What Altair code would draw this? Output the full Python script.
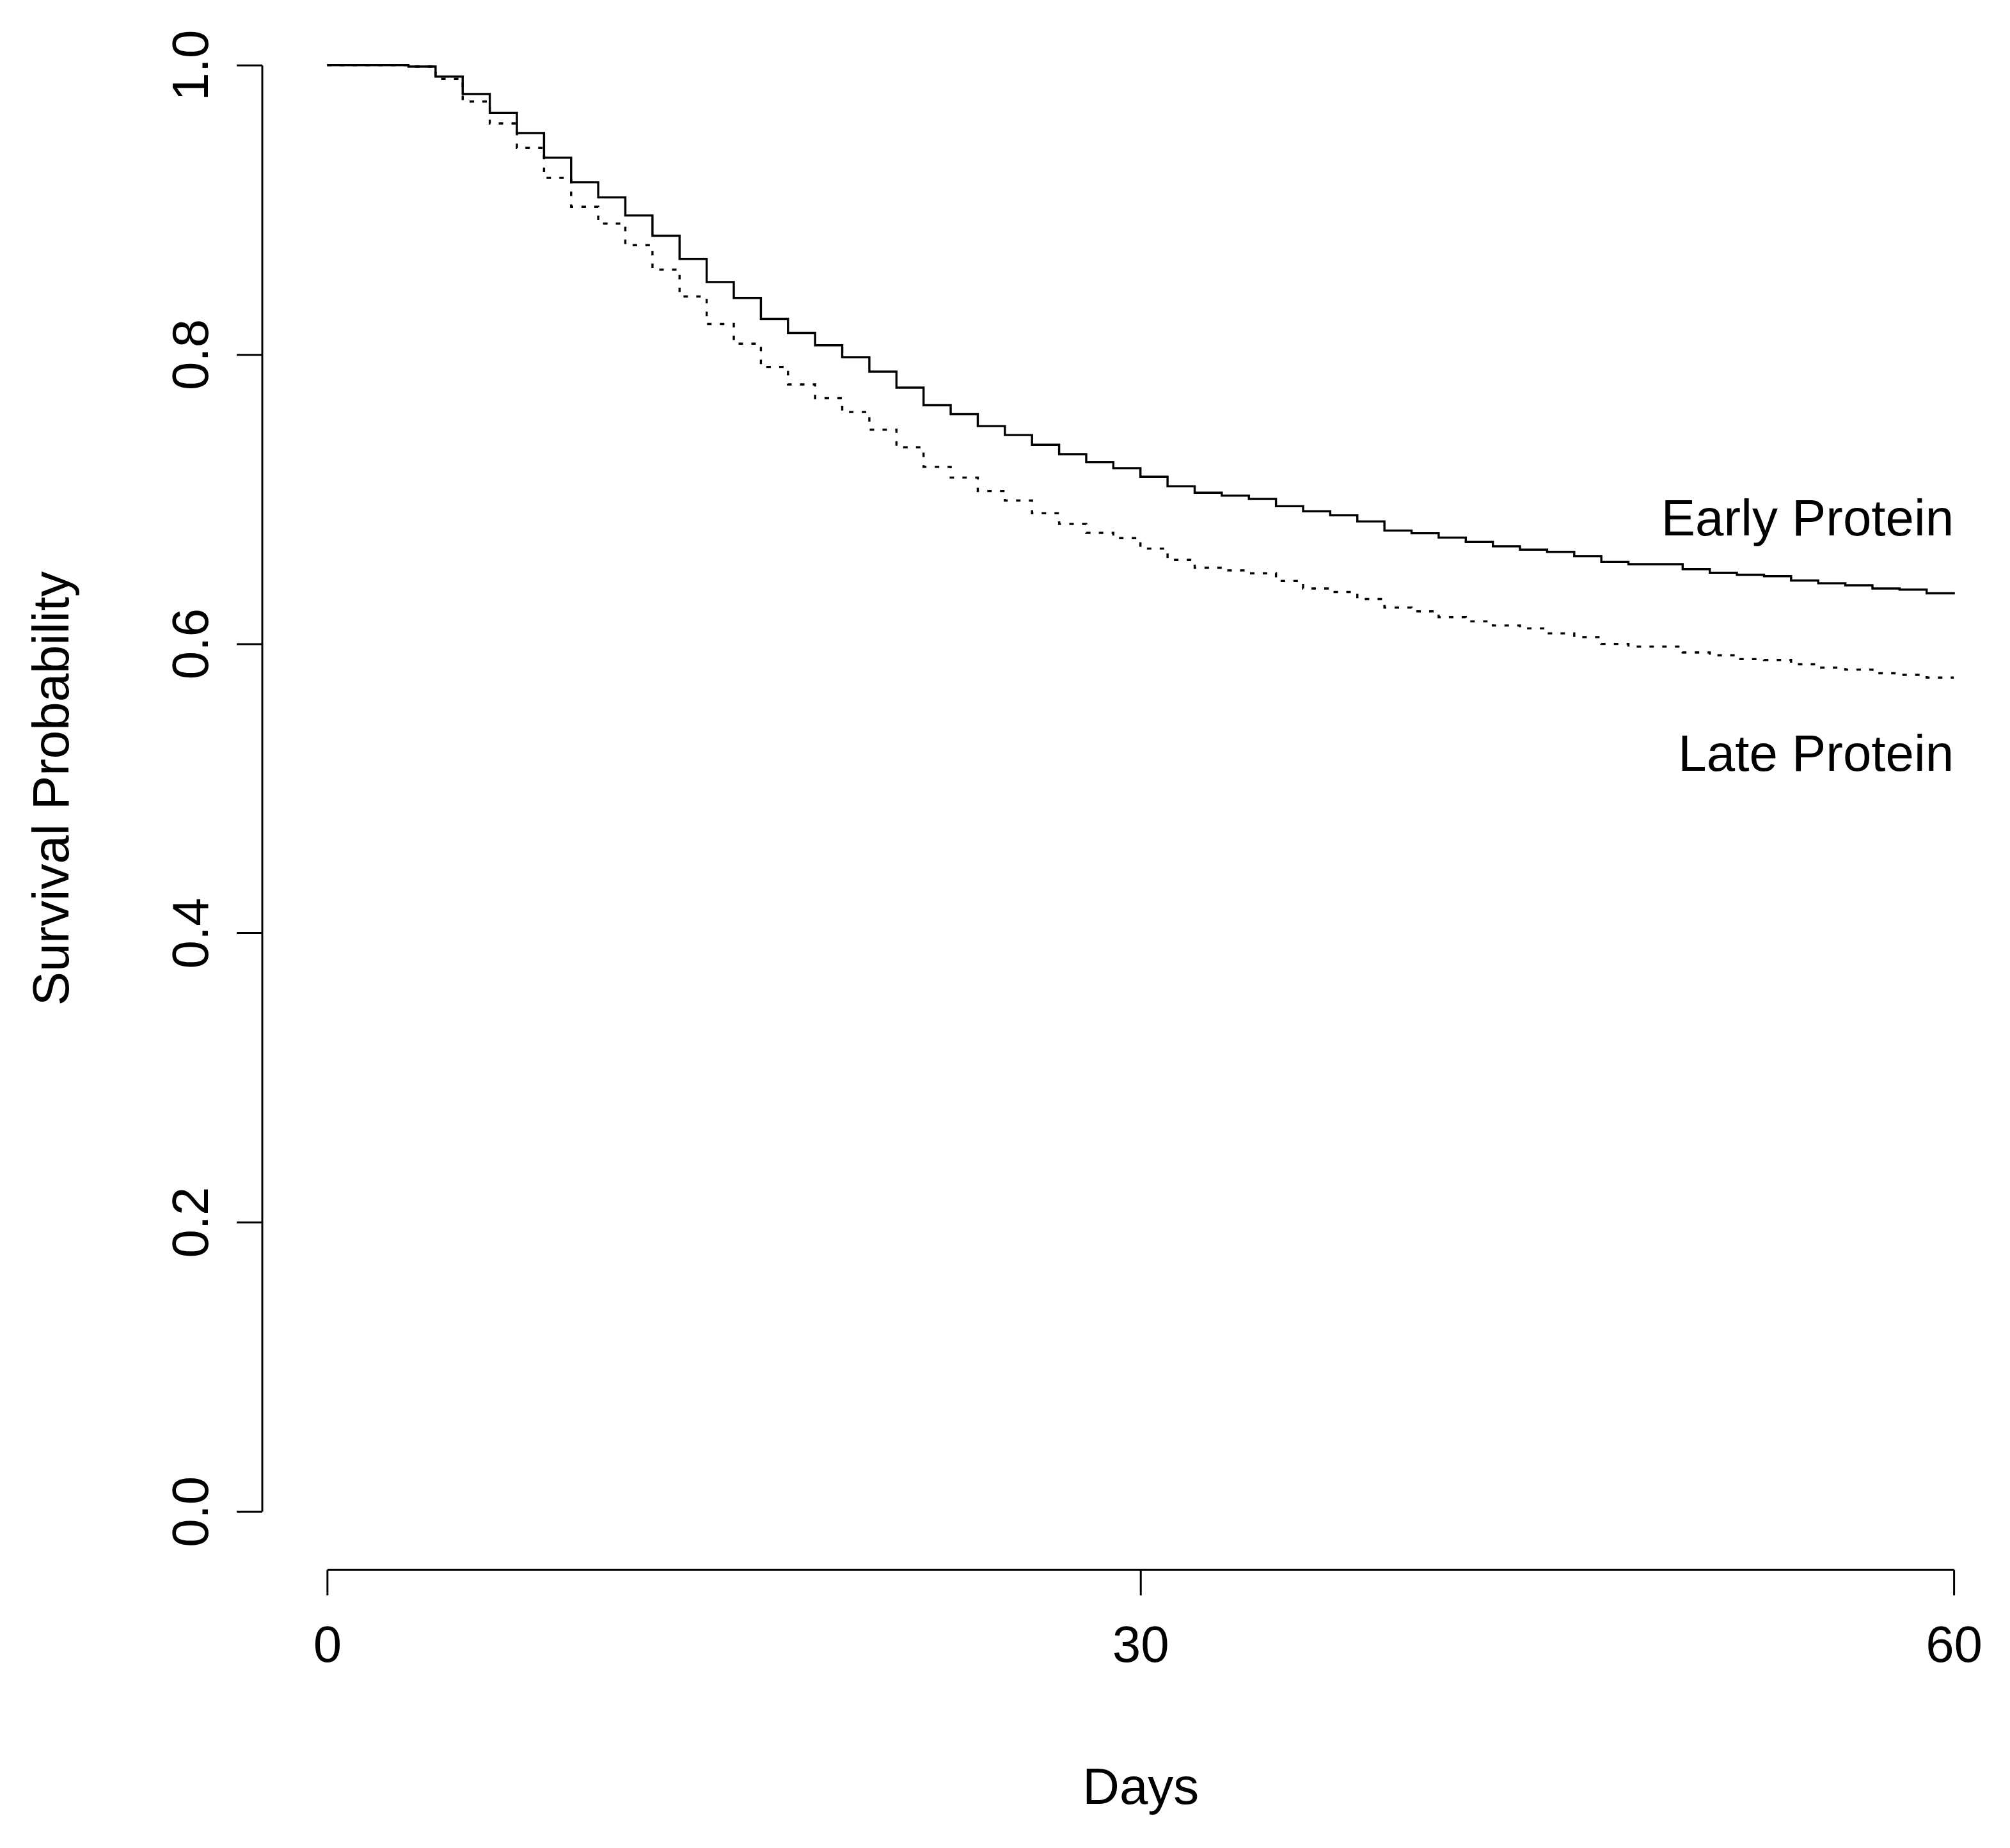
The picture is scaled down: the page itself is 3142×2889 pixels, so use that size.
import altair as alt
import pandas as pd

# ---- data ----
days = list(range(61))
early = [1.0, 1.0, 1.0, 0.999, 0.992, 0.980, 0.967, 0.953, 0.936, 0.919,
         0.9085, 0.896, 0.882, 0.866, 0.850, 0.839, 0.8245, 0.8148, 0.8063, 0.7979,
         0.788, 0.777, 0.7648, 0.7586, 0.7504, 0.7442, 0.7375, 0.731, 0.7254, 0.7213,
         0.7154, 0.7088, 0.7043, 0.7023, 0.700, 0.695, 0.6915, 0.6887, 0.6845, 0.6782,
         0.6763, 0.6733, 0.6703, 0.6673, 0.665, 0.6634, 0.6604, 0.6565, 0.6549, 0.6549,
         0.6515, 0.649, 0.6476, 0.6466, 0.6436, 0.6417, 0.6403, 0.6381, 0.6373, 0.6348,
         0.634]
late = [1.0, 1.0, 1.0, 0.999, 0.9905, 0.9748, 0.9596, 0.9427, 0.922, 0.902,
        0.8904, 0.8755, 0.8586, 0.840, 0.821, 0.8074, 0.7913, 0.7792, 0.7697, 0.7601,
        0.7479, 0.7357, 0.7222, 0.7148, 0.7055, 0.6989, 0.6901, 0.6827, 0.6766, 0.6729,
        0.6657, 0.6579, 0.6525, 0.6506, 0.6486, 0.6433, 0.6381, 0.6357, 0.6308, 0.6249,
        0.6223, 0.6183, 0.6154, 0.6125, 0.6105, 0.6071, 0.6045, 0.5998, 0.5979, 0.5979,
        0.5939, 0.5919, 0.5893, 0.5887, 0.5857, 0.5834, 0.582, 0.5795, 0.5784, 0.5765,
        0.5765]
x_ticks = [0, 30, 60]
y_ticks = [0.0, 0.2, 0.4, 0.6, 0.8, 1.0]
series_labels = ["Early Protein", "Late Protein"]
label_day = [60, 60]
label_y = [0.6747, 0.512]

FONT = "Liberation Sans"
W, H = 2546, 2264

df_early = pd.DataFrame({"day": days, "surv": early})
df_late = pd.DataFrame({"day": days, "surv": late})
df_lab = pd.DataFrame({"day": label_day, "surv": label_y, "label": series_labels})

xscale = alt.Scale(domain=[0, 60], nice=False, zero=False)
yscale = alt.Scale(domain=[0, 1], nice=False, zero=False)

xaxis = alt.Axis(
    values=x_ticks, format="d", title="Days", grid=False, offset=91,
    domainColor="black", domainWidth=3, tickColor="black", tickWidth=3, tickSize=40,
    labelFont=FONT, labelFontSize=80, labelColor="black", labelPadding=41,
    labelBaseline="top", labelAlign="center", labelFlush=False, labelOverlap=False,
    titleFont=FONT, titleFontSize=80, titleFontWeight="normal", titleColor="black",
    titleX=W / 2, titleY=366, titleAlign="center", titleBaseline="alphabetic",
)
yaxis = alt.Axis(
    values=y_ticks, format=".1f", title="Survival Probability", grid=False, offset=102,
    domainColor="black", domainWidth=3, tickColor="black", tickWidth=3, tickSize=40,
    labelFont=FONT, labelFontSize=80, labelColor="black", labelPadding=45,
    labelAngle=270, labelBaseline="alphabetic", labelAlign="center",
    labelFlush=False, labelOverlap=False,
    titleFont=FONT, titleFontSize=80, titleFontWeight="normal", titleColor="black",
    titleAngle=270, titleX=-303, titleY=H / 2, titleAlign="center",
    titleBaseline="alphabetic",
)

x_enc = alt.X("day:Q", scale=xscale, axis=xaxis)
y_enc = alt.Y("surv:Q", scale=yscale, axis=yaxis)

early_line = alt.Chart(df_early).mark_line(
    interpolate="step-after", color="black", strokeWidth=3.4
).encode(x=x_enc, y=y_enc)

late_line = alt.Chart(df_late).mark_line(
    interpolate="step-after", color="black", strokeWidth=3.4, strokeDash=[7, 13]
).encode(x=x_enc, y=y_enc)

labels = alt.Chart(df_lab).mark_text(
    align="right", baseline="alphabetic", font=FONT, fontSize=80, color="black"
).encode(x=x_enc, y=y_enc, text="label:N")

chart = alt.layer(early_line, late_line, labels).properties(
    width=W, height=H,
    autosize=alt.AutoSizeParams(type="none"),
    padding={"left": 504, "top": 92, "right": 80, "bottom": 500},
    background="white",
).configure_view(strokeWidth=0)

chart.save("out.html", embed_options={"renderer": "svg", "actions": False})
